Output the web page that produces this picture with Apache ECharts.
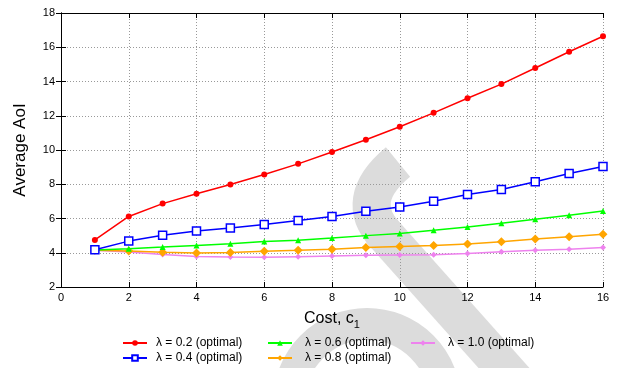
<!DOCTYPE html>
<html>
<head>
<meta charset="utf-8">
<script src="https://cdn.jsdelivr.net/npm/echarts@6/dist/echarts.min.js"></script>
<style>html,body{margin:0;padding:0;background:#fff}#c{width:619px;height:368px}</style>
</head>
<body>
<div id="c"></div>
<script>
var costs = [1,2,3,4,5,6,7,8,9,10,11,12,13,14,15,16];
var lam02 = [4.75,6.12,6.87,7.44,7.99,8.57,9.19,9.88,10.6,11.36,12.17,13.02,13.85,14.79,15.74,16.64];
var lam04 = [4.18,4.68,5.02,5.27,5.45,5.65,5.88,6.12,6.42,6.67,7.01,7.4,7.69,8.14,8.63,9.04];
var lam06 = [4.16,4.24,4.33,4.43,4.53,4.66,4.73,4.86,5.0,5.13,5.31,5.5,5.72,5.95,6.19,6.44];
var lam08 = [4.15,4.1,4.03,3.99,4.02,4.09,4.14,4.2,4.3,4.37,4.42,4.51,4.64,4.8,4.94,5.08];
var lam10 = [4.15,4.05,3.9,3.78,3.75,3.73,3.77,3.81,3.85,3.87,3.89,3.96,4.06,4.14,4.2,4.3];
var seriesNames = ['\u03bb = 0.2 (optimal)','\u03bb = 0.4 (optimal)','\u03bb = 0.6 (optimal)','\u03bb = 0.8 (optimal)','\u03bb = 1.0 (optimal)'];
var xTicks = {min:0, max:16, interval:2};
var yTicks = {min:2, max:18, interval:2};

function pairs(v){ return costs.map(function(c,i){ return [c, v[i]]; }); }

var FONT = 'Liberation Sans, Arial, Helvetica, sans-serif';
var chart = echarts.init(document.getElementById('c'), null, {renderer:'canvas'});

var baseLegend = {
  orient:'vertical', itemWidth:24, itemHeight:7, itemGap:3,
  textStyle:{fontFamily:FONT, fontSize:12, color:'#000', padding:[0,0,0,4]},
  selectedMode:false, padding:0
};
var WM = '#dcdcdc';

var option = {
  animation:false,
  backgroundColor:'#fff',
  grid:{left:61, right:16, top:13, bottom:81, containLabel:false},
  graphic:[
    {type:'bezierCurve', z:-10, silent:true,
     shape:{x1:398, y1:162, cpx1:352, cpy1:200, x2:386, y2:236},
     style:{fill:null, stroke:WM, lineWidth:38, lineCap:'butt'}},
    {type:'line', z:-10, silent:true,
     shape:{x1:380, y1:229, x2:545, y2:414},
     style:{stroke:WM, lineWidth:38, lineCap:'butt'}},
    {type:'arc', z:-10, silent:true,
     shape:{cx:367, cy:402, r:78, startAngle:Math.PI, endAngle:Math.PI*2},
     style:{fill:null, stroke:WM, lineWidth:32}}
  ],
  legend:[
    Object.assign({}, baseLegend, {left:122, top:337, data:[seriesNames[0], seriesNames[1]]}),
    Object.assign({}, baseLegend, {left:267, top:337, data:[seriesNames[2], seriesNames[3]], textStyle:Object.assign({}, baseLegend.textStyle, {padding:[0,0,0,8]})}),
    Object.assign({}, baseLegend, {left:410, top:337, data:[seriesNames[4]], textStyle:Object.assign({}, baseLegend.textStyle, {padding:[0,0,0,8]})})
  ],
  xAxis:[{
    type:'value', min:xTicks.min, max:xTicks.max, interval:xTicks.interval,
    name:'{a|Cost, c}{b|1}', nameLocation:'middle', nameGap:20,
    nameTextStyle:{rich:{a:{fontFamily:FONT, fontSize:16, color:'#000'}, b:{fontFamily:FONT, fontSize:11, color:'#000', padding:[12,0,0,0]}}},
    axisLine:{show:true, lineStyle:{color:'#000', width:1}},
    axisTick:{show:true, inside:true, length:5, lineStyle:{color:'#000'}},
    axisLabel:{fontFamily:FONT, fontSize:11, color:'#000', margin:5},
    splitLine:{show:true, lineStyle:{color:'#999', type:[1,2], width:1}}
  },{
    type:'value', position:'top', min:xTicks.min, max:xTicks.max, interval:xTicks.interval,
    axisLine:{show:true, lineStyle:{color:'#000', width:1}},
    axisTick:{show:true, inside:true, length:5, lineStyle:{color:'#000'}},
    axisLabel:{show:false}, splitLine:{show:false}
  }],
  yAxis:[{
    type:'value', min:yTicks.min, max:yTicks.max, interval:yTicks.interval,
    name:'Average AoI', nameLocation:'middle', nameGap:32,
    nameTextStyle:{fontFamily:FONT, fontSize:17, color:'#000'},
    axisLine:{show:true, lineStyle:{color:'#000', width:1}},
    axisTick:{show:true, inside:true, length:5, lineStyle:{color:'#000'}},
    axisLabel:{fontFamily:FONT, fontSize:11, color:'#000', margin:6},
    splitLine:{show:true, lineStyle:{color:'#999', type:[1,2], width:1}}
  },{
    type:'value', position:'right', min:yTicks.min, max:yTicks.max, interval:yTicks.interval,
    axisLine:{show:true, lineStyle:{color:'#000', width:1}},
    axisTick:{show:true, inside:true, length:5, lineStyle:{color:'#000'}},
    axisLabel:{show:false}, splitLine:{show:false}
  }],
  series:[
    {name:seriesNames[4], type:'line', data:pairs(lam10), symbol:'diamond', symbolSize:6, z:2,
     lineStyle:{color:'#ee82ee', width:1.5}, itemStyle:{color:'#ee82ee'}},
    {name:seriesNames[3], type:'line', data:pairs(lam08), symbol:'diamond', symbolSize:9, z:3,
     lineStyle:{color:'#ffa500', width:1.5}, itemStyle:{color:'#ffa500'}},
    {name:seriesNames[2], type:'line', data:pairs(lam06), symbol:'triangle', symbolSize:6, z:4,
     lineStyle:{color:'#00ff00', width:1.5}, itemStyle:{color:'#00ff00'}},
    {name:seriesNames[1], type:'line', data:pairs(lam04), symbol:'rect', symbolSize:8, z:5,
     lineStyle:{color:'#0000ff', width:1.5}, itemStyle:{color:'#fff', borderColor:'#0000ff', borderWidth:1.5}},
    {name:seriesNames[0], type:'line', data:pairs(lam02), symbol:'circle', symbolSize:6, z:6,
     lineStyle:{color:'#ff0000', width:1.5}, itemStyle:{color:'#ff0000'}}
  ]
};
chart.setOption(option);
</script>
</body>
</html>
